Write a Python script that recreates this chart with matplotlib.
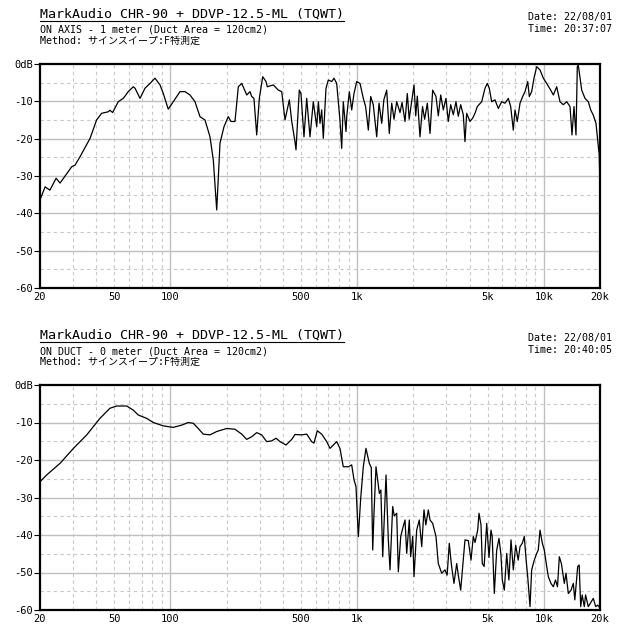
import matplotlib
matplotlib.use("Agg")
import matplotlib.pyplot as plt
from matplotlib.lines import Line2D

plt.rcParams['font.family'] = ['DejaVu Sans Mono', 'Noto Sans CJK JP']

# header texts
title = "MarkAudio CHR-90 + DDVP-12.5-ML (TQWT)"
method = "Method: サインスイープ:F特測定"
top_sub = "ON AXIS - 1 meter (Duct Area = 120cm2)"
top_date = "Date: 22/08/01"
top_time = "Time: 20:37:07"
bot_sub = "ON DUCT - 0 meter (Duct Area = 120cm2)"
bot_date = "Date: 22/08/01"
bot_time = "Time: 20:40:05"

# axis ticks
x_ticks = [20, 50, 100, 500, 1000, 5000, 10000, 20000]
x_labels = ["20", "50", "100", "500", "1k", "5k", "10k", "20k"]
y_ticks = [0, -10, -20, -30, -40, -50, -60]
y_labels = ["0dB", "-10", "-20", "-30", "-40", "-50", "-60"]

# response: (Hz, dB)
top_response = [
    (20, -36.4), (21.3, -32.9), (22.6, -33.8), (24.4, -30.6), (25.6, -31.9),
    (29.6, -27.5), (30.8, -27.1), (32.8, -24.8), (37.1, -19.9), (40.2, -15.0),
    (42.8, -13.2), (46.4, -12.8), (47.4, -12.4), (49.0, -13.0), (52.5, -10.1),
    (55.9, -9.2), (59.4, -7.4), (63.2, -6.1), (64.6, -6.5), (68.7, -9.2),
    (73.0, -6.5), (77.7, -5.2), (82.6, -3.8), (87.9, -5.6), (91.5, -7.9),
    (97.3, -12.1), (103.5, -10.1), (112.5, -7.4), (119.6, -7.4), (127.2, -8.3),
    (135.3, -10.1), (143.9, -14.1), (153.1, -15.0), (162.8, -19.5), (169.6, -25.7),
    (176.9, -39.1), (184.2, -21.2), (193.5, -16.8), (204, -14.1), (211, -15.4),
    (221.6, -15.4), (230.9, -6.1), (240.8, -5.2), (256.2, -8.3), (266.7, -7.4),
    (272.4, -8.7), (280, -9.2), (289.7, -19.0), (299.2, -9.2), (312, -3.4),
    (324.9, -4.7), (330, -6.1), (355.7, -5.6), (378.2, -7.0), (394.4, -7.4),
    (410.8, -15.0), (433.3, -9.6), (446.3, -15.4), (464.5, -20.8), (470.4, -23.0),
    (489.8, -7.0), (500, -7.9), (519, -19.5), (536.8, -9.2), (559, -19.5),
    (582.3, -10.1), (607.4, -16.8), (620, -10.1), (632.5, -15.9), (645.8, -12.3),
    (658.8, -19.9), (681, -6.5), (700.6, -4.3), (730.8, -4.7), (751.6, -3.8),
    (777, -5.2), (809, -15.0), (826.6, -22.6), (843, -10.1), (871.6, -18.1),
    (880, -13.9), (908, -7.4), (935, -12.3), (962, -7.9), (994.6, -4.7),
    (1036, -5.2), (1079, -9.2), (1110, -11.4), (1148, -17.7), (1182, -8.7),
    (1220, -10.9), (1273, -19.5), (1310, -10.5), (1354, -15.9), (1390, -9.6),
    (1440, -7.0), (1487, -18.6), (1532, -10.5), (1576, -14.8), (1629, -10.1),
    (1697, -13.0), (1740, -10.3), (1805, -15.4), (1857, -7.9), (1900, -14.8),
    (2017, -5.6), (2060, -13.9), (2100, -8.6), (2171, -19.5), (2240, -11.4),
    (2300, -14.8), (2376, -10.5), (2457, -18.6), (2539, -7.0), (2645, -8.7),
    (2721, -13.9), (2804, -8.3), (2894, -12.3), (2992, -9.2), (3078, -15.4),
    (3170, -10.9), (3274, -13.6), (3384, -10.1), (3482, -14.0), (3587, -10.9),
    (3704, -13.6), (3782, -20.8), (3862, -13.2), (4024, -15.4), (4159, -14.5),
    (4280, -13.2), (4403, -11.4), (4648, -10.1), (4842, -6.5), (4982, -5.2),
    (5105, -6.5), (5257, -10.1), (5476, -9.6), (5704, -11.9), (5948, -10.1),
    (6195, -10.5), (6453, -9.2), (6646, -11.4), (6864, -17.7), (7009, -12.3),
    (7210, -15.4), (7456, -10.5), (7706, -8.7), (7930, -7.4), (8198, -4.7),
    (8363, -8.7), (8610, -7.4), (8860, -3.8), (9160, -0.7), (9544, -1.6),
    (9940, -3.8), (10364, -5.2), (10888, -7.0), (11245, -8.3), (11722, -6.1),
    (12210, -10.1), (12720, -10.9), (13264, -10.1), (13816, -11.4), (14158, -19.0),
    (14512, -11.4), (14874, -19.0), (15116, -0.7), (15302, -0.3), (15960, -7.0),
    (16620, -9.2), (17312, -10.1), (17834, -12.3), (18410, -13.7), (19036, -15.9),
    (19586, -22.1), (19800, -24.0), (19950, -31.0),
]

bottom_response = [
    (20, -25.8), (21.7, -24.0), (25.6, -20.9), (30.2, -16.9), (35.6, -13.3),
    (41.9, -8.9), (47.4, -6.2), (51.5, -5.6), (58.3, -5.6), (63.2, -6.7),
    (67.2, -8.0), (74.6, -8.9), (80.9, -10.0), (91.5, -10.9), (103.5, -11.3),
    (114.8, -10.7), (124.6, -10.0), (132.5, -10.2), (140.9, -11.6), (149.9, -13.1),
    (162.8, -13.3), (176.9, -12.4), (200, -11.6), (221.6, -11.8), (240.8, -13.1),
    (256.2, -14.5), (272.4, -13.8), (289.7, -12.7), (308, -13.3), (327.7, -15.1),
    (348.6, -14.9), (367.6, -14.2), (386.3, -15.1), (415.8, -16.0), (446.3, -14.5),
    (464.5, -13.2), (504.6, -13.3), (536.8, -13.1), (570.8, -15.1), (587, -15.5),
    (611.7, -12.2), (645.8, -13.1), (687, -15.1), (715.5, -16.9), (745, -16.0),
    (777, -15.1), (809, -16.9), (843, -21.8), (897, -21.8), (935, -21.3),
    (962, -25.3), (986, -27.1), (1015, -40.4), (1045, -30.2), (1079, -21.8),
    (1115, -16.9), (1162, -20.9), (1190, -22.0), (1212, -44.0), (1231, -34.2),
    (1262, -21.8), (1315, -28.9), (1340, -28.0), (1371, -45.8), (1428, -24.0),
    (1469, -41.3), (1500, -49.3), (1550, -32.4), (1580, -34.9), (1629, -34.2),
    (1662, -49.8), (1712, -40.4), (1755, -38.2), (1805, -36.0), (1843, -44.9),
    (1903, -36.0), (1935, -45.8), (1984, -40.4), (2017, -51.1), (2084, -38.7),
    (2152, -36.0), (2218, -43.1), (2281, -33.3), (2333, -37.3), (2406, -33.3),
    (2457, -36.0), (2539, -36.9), (2645, -40.4), (2721, -47.6), (2838, -50.2),
    (2956, -49.3), (3035, -50.7), (3116, -42.2), (3200, -48.0), (3302, -52.9),
    (3415, -47.6), (3482, -50.7), (3587, -54.7), (3704, -46.7), (3782, -41.3),
    (3940, -41.5), (4074, -46.7), (4190, -40.4), (4280, -42.0), (4424, -38.7),
    (4496, -34.2), (4608, -37.3), (4682, -47.6), (4790, -48.4), (4944, -36.9),
    (5086, -46.0), (5212, -38.7), (5290, -40.4), (5430, -55.6), (5594, -44.0),
    (5754, -40.9), (5893, -45.2), (5994, -52.0), (6144, -54.7), (6328, -44.9),
    (6500, -52.0), (6674, -41.3), (6864, -49.3), (7070, -42.7), (7290, -46.7),
    (7456, -43.1), (7670, -42.2), (7862, -40.4), (8040, -46.7), (8198, -51.1),
    (8434, -59.1), (8610, -49.3), (8890, -46.7), (9160, -44.9), (9340, -44.0),
    (9544, -38.7), (9820, -42.2), (10060, -44.0), (10364, -48.4), (10572, -51.1),
    (10920, -52.9), (11245, -53.8), (11550, -52.0), (11840, -53.8), (12108, -45.8),
    (12420, -47.6), (12880, -52.9), (13150, -50.2), (13530, -55.6), (13990, -54.7),
    (14390, -52.9), (14660, -57.3), (15192, -48.4), (15470, -48.0), (15762, -59.1),
    (16050, -56.0), (16480, -59.1), (16740, -56.0), (17312, -59.1), (17840, -58.0),
    (18410, -56.9), (18968, -59.1), (19440, -58.7), (20000, -59.5),
]

# grid positions
solid_x = [100, 1000, 10000]
dashed_x = [30, 40, 50, 60, 70, 80, 90,
            200, 300, 400, 500, 600, 700, 800, 900,
            2000, 3000, 4000, 5000, 6000, 7000, 8000, 9000]
solid_y = [-10, -20, -30, -40, -50]
dashed_y = [-5, -15, -25, -35, -45, -55]

fig = plt.figure(figsize=(6.4, 6.42), dpi=100)


def draw_panel(rect, data, sub, date, time, head_y):
    ax = fig.add_axes(rect)
    ax.set_xscale('log')
    ax.set_xlim(20, 20000)
    ax.set_ylim(-60, 0)
    for v in solid_x:
        ax.axvline(v, color='#c0c0c0', lw=1.0, zorder=1)
    for v in dashed_x:
        ax.axvline(v, color='#c8c8c8', lw=0.8, ls=(0, (3, 3)), zorder=1)
    for v in solid_y:
        ax.axhline(v, color='#c0c0c0', lw=1.0, zorder=1)
    for v in dashed_y:
        ax.axhline(v, color='#c8c8c8', lw=0.8, ls=(0, (3, 3)), zorder=1)

    f = [p[0] for p in data]
    db = [p[1] for p in data]
    ax.plot(f, db, color='black', lw=0.9, zorder=3)

    ax.set_xticks(x_ticks)
    ax.set_xticklabels(x_labels)
    ax.xaxis.set_minor_locator(matplotlib.ticker.NullLocator())
    ax.set_yticks(y_ticks)
    ax.set_yticklabels(y_labels)
    ax.tick_params(axis='x', length=0, pad=3, labelsize=7.5)
    ax.tick_params(axis='y', length=4, width=0.8, pad=1, labelsize=7.5)
    for s in ax.spines.values():
        s.set_linewidth(1.6)
        s.set_color('black')

    # header block
    t = fig.text(40 / 640, 1 - head_y / 642, title, fontsize=9.6, va='center', ha='left')
    fig.text(40 / 640, 1 - (head_y + 16) / 642, sub, fontsize=7.2, va='center', ha='left')
    fig.text(40 / 640, 1 - (head_y + 27) / 642, method, fontsize=7.2, va='center', ha='left')
    fig.text(612 / 640, 1 - (head_y + 3) / 642, date, fontsize=7.2, va='center', ha='right')
    fig.text(612 / 640, 1 - (head_y + 15) / 642, time, fontsize=7.2, va='center', ha='right')
    return t


t1 = draw_panel([40 / 640, 354 / 642, 560 / 640, 224 / 642], top_response,
                top_sub, top_date, top_time, 14)
t2 = draw_panel([40 / 640, 32 / 642, 560 / 640, 225 / 642], bottom_response,
                bot_sub, bot_date, bot_time, 335)

# underline the titles
fig.canvas.draw()
inv = fig.transFigure.inverted()
for t in (t1, t2):
    bb = t.get_window_extent()
    (x0, y0), (x1, _) = inv.transform([[bb.x0, bb.y0], [bb.x1, bb.y1]])
    fig.add_artist(Line2D([x0, x1], [y0, y0], color='black', lw=0.8,
                          transform=fig.transFigure))

fig.savefig("out.png", dpi=100)
